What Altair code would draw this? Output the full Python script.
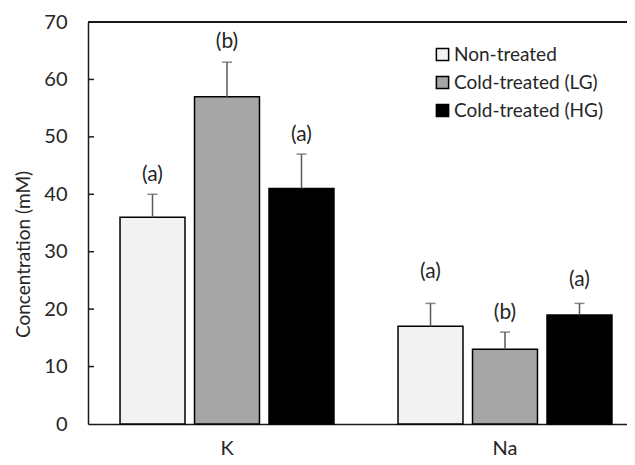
import altair as alt
import pandas as pd

minerals = ["K", "K", "K", "Na", "Na", "Na"]
treatment_order = ["Non-treated", "Cold-treated (LG)", "Cold-treated (HG)"]
treatments = treatment_order * 2
values = [36, 57, 41, 17, 13, 19]
errors = [4, 6, 6, 4, 3, 2]
letters = ["(a)", "(b)", "(a)", "(a)", "(b)", "(a)"]
letter_y = [43.4, 66.5, 50.3, 26.5, 19.3, 25.1]
y_ticks = [0, 10, 20, 30, 40, 50, 60, 70]
inner_ticks = [10, 20, 30, 40, 50, 60]
colors = ["#f2f2f2", "#a6a6a6", "#000000"]

df = pd.DataFrame({
    "mineral": minerals,
    "treatment": treatments,
    "value": values,
    "err": errors,
    "letter": letters,
    "ly": letter_y,
})
df["top"] = df["value"] + df["err"]
ticks_df = pd.DataFrame({"t": inner_ticks})

W, H = 539, 402
FONT = "Lato"
TXT = "#262626"
AX = "#1a1a1a"
YTITLE = "Concentration (mM)"

x_enc = alt.X(
    "mineral:N",
    scale=alt.Scale(domain=["K", "Na"], range=[0, 556], paddingInner=0, paddingOuter=0),
    axis=alt.Axis(title=None, labelAngle=0, ticks=False, domainColor=AX, domainWidth=1.5,
                  labelFont=FONT, labelFontSize=20, labelColor=TXT, labelPadding=14),
)
xo_enc = alt.XOffset(
    "treatment:N",
    scale=alt.Scale(domain=treatment_order, paddingInner=0.128, paddingOuter=0.43),
)
y_scale = alt.Scale(domain=[0, 70], nice=False, zero=True)
y_axis = alt.Axis(values=y_ticks, title=YTITLE, ticks=False, grid=False,
                  domainColor=AX, domainWidth=1.5, labelFont=FONT, labelFontSize=20,
                  labelColor=TXT, labelPadding=21, titleFont=FONT, titleFontSize=19,
                  titleFontWeight="normal", titleColor=TXT, titleX=-55, titleY=232)


def yenc(field):
    return alt.Y(field, scale=y_scale, axis=y_axis, title=YTITLE)


base = alt.Chart(df)

bars = base.mark_bar(stroke="black", strokeWidth=1.5).encode(
    x=x_enc,
    xOffset=xo_enc,
    y=yenc("value:Q"),
    fill=alt.Fill(
        "treatment:N",
        scale=alt.Scale(domain=treatment_order, range=colors),
        legend=alt.Legend(title=None, orient="none", legendX=345, legendY=23,
                          symbolType="square", symbolSize=150, symbolStrokeColor="black",
                          symbolStrokeWidth=1.5, labelFont=FONT, labelFontSize=19,
                          labelColor=TXT, rowPadding=8, labelOffset=2),
    ),
)

err_line = base.mark_rule(color="#595959", strokeWidth=1.5).encode(
    x=x_enc, xOffset=xo_enc,
    y=yenc("value:Q"),
    y2="top:Q",
)

err_cap = base.mark_tick(color="#595959", thickness=1.5, size=10, orient="horizontal").encode(
    x=x_enc, xOffset=xo_enc,
    y=yenc("top:Q"),
)

labels = base.mark_text(font=FONT, fontSize=21, color=TXT, baseline="middle").encode(
    x=x_enc, xOffset=xo_enc,
    y=yenc("ly:Q"),
    text="letter:N",
)

tick_marks = alt.Chart(ticks_df).mark_rule(color=AX, strokeWidth=1.5).encode(
    y=yenc("t:Q"),
    x=alt.value(0),
    x2=alt.value(6),
)

top_line = alt.Chart(ticks_df).mark_rule(color=AX, strokeWidth=1.5).encode(
    y=alt.datum(70, scale=y_scale, axis=y_axis, title=YTITLE),
    x=alt.value(0),
    x2=alt.value(W + 20),
)

chart = alt.layer(bars, err_line, err_cap, labels, tick_marks, top_line).properties(
    width=W, height=H,
    autosize=alt.AutoSizeParams(type="none"),
    padding={"left": 80, "top": 14, "right": 0, "bottom": 33},
).configure_view(stroke=None).configure_axisY(
    titleFont=FONT, titleFontSize=19, titleFontWeight="normal", titleColor=TXT
)

chart.save("out.html", embed_options={"renderer": "svg", "actions": False})
